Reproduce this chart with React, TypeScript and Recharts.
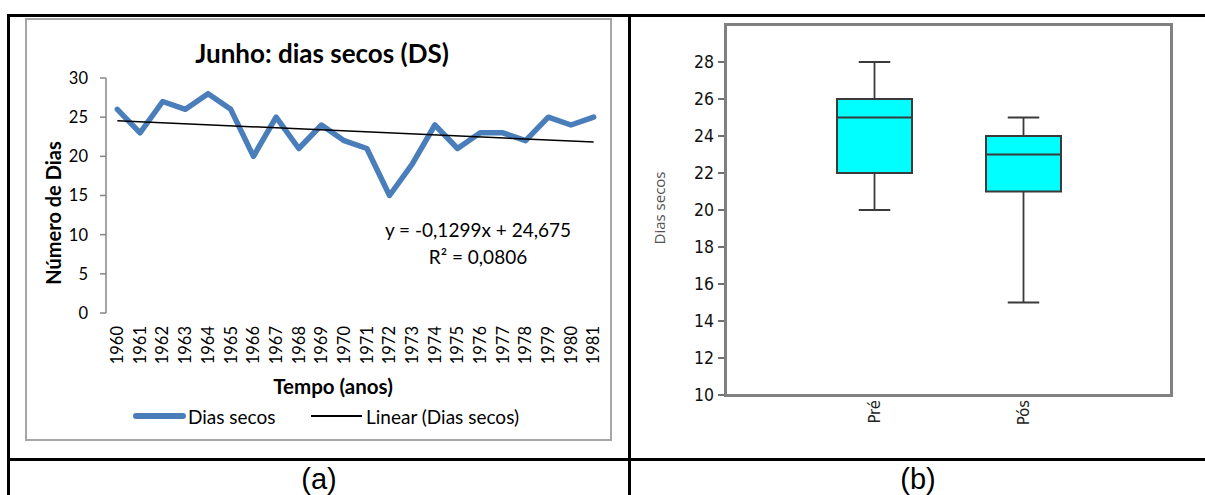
import React from 'react'
import {
  LineChart, Line, XAxis, YAxis, ReferenceLine,
  ComposedChart, Bar,
} from 'recharts'

// (a) Junho: dias secos, 1960-1981
const years = [1960, 1961, 1962, 1963, 1964, 1965, 1966, 1967, 1968, 1969, 1970,
  1971, 1972, 1973, 1974, 1975, 1976, 1977, 1978, 1979, 1980, 1981]
const drySpells = [26, 23, 27, 26, 28, 26, 20, 25, 21, 24, 22, 21, 15, 19, 24, 21, 23, 23, 22, 25, 24, 25]
const trendStart = 24.55
const trendEnd = 21.82
const leftTicks = [0, 5, 10, 15, 20, 25, 30]

// (b) box plot Pré / Pós
const periods = ['Pré', 'Pós']
const mins = [20, 15]
const q1s = [22, 21]
const medians = [25, 23]
const q3s = [26, 24]
const maxs = [28, 25]
const rightTicks = [10, 12, 14, 16, 18, 20, 22, 24, 26, 28]

const lineData = years.map((year, i) => ({ year, dias: drySpells[i] }))
const boundaries = [...years.map(y => y - 0.5), years[years.length - 1] + 0.5]

const boxData = periods.map((period, i) => ({
  period,
  min: mins[i],
  q1: q1s[i],
  median: medians[i],
  q3: q3s[i],
  max: maxs[i],
  box: [q1s[i], q3s[i]],
}))

const LATO = 'Lato, Calibri, sans-serif'
const COND = "'DejaVu Sans Condensed', 'DejaVu Sans', sans-serif"
const BLUE = '#4a7ebb'

const YearTick = ({ x, y, payload }: any) => (
  <text
    transform={`translate(${x},${y}) rotate(-90)`}
    textAnchor="end"
    dy="0.35em"
    fontFamily={LATO}
    fontSize={16.5}
    fill="#000"
  >
    {payload.value}
  </text>
)

const PeriodTick = ({ x, y, payload }: any) => (
  <text
    transform={`translate(${x},${y}) rotate(-90)`}
    textAnchor="end"
    dy="0.35em"
    fontFamily={COND}
    fontStretch="condensed"
    fontSize={16.5}
    fill="#222"
  >
    {payload.value}
  </text>
)

const BoxShape = (props: any) => {
  const { x, y, width, height, payload } = props
  const unit = height / (payload.q3 - payload.q1)
  const cx = x + width / 2
  const yMax = y - (payload.max - payload.q3) * unit
  const yMin = y + height + (payload.q1 - payload.min) * unit
  const yMed = y + (payload.q3 - payload.median) * unit
  const cap = width * 0.21
  const ink = '#3a3a3a'
  return (
    <g>
      <line x1={cx} y1={yMax} x2={cx} y2={y} stroke={ink} strokeWidth={1.8} />
      <line x1={cx - cap} y1={yMax} x2={cx + cap} y2={yMax} stroke={ink} strokeWidth={1.8} />
      <line x1={cx} y1={y + height} x2={cx} y2={yMin} stroke={ink} strokeWidth={1.8} />
      <line x1={cx - cap} y1={yMin} x2={cx + cap} y2={yMin} stroke={ink} strokeWidth={1.8} />
      <rect x={x} y={y} width={width} height={height} fill="#00ffff" stroke={ink} strokeWidth={2} />
      <line x1={x} y1={yMed} x2={x + width} y2={yMed} stroke={ink} strokeWidth={2} />
    </g>
  )
}

const abs = (style: React.CSSProperties): React.CSSProperties => ({ position: 'absolute', ...style })

export default function App() {
  return (
    <div style={abs({ left: 0, top: 0, width: 1205, height: 495, overflow: 'hidden', background: '#fff' })}>
      {/* table lines */}
      <div style={abs({ left: 7, top: 14, width: 1250, height: 3, background: '#000' })} />
      <div style={abs({ left: 7, top: 14, width: 3, height: 500, background: '#000' })} />
      <div style={abs({ left: 628, top: 14, width: 3, height: 500, background: '#000' })} />
      <div style={abs({ left: 7, top: 458, width: 1250, height: 3, background: '#000' })} />

      {/* (a) */}
      <div style={abs({ left: 25, top: 18, width: 587, height: 423, border: '2px solid #a6a6a6', boxSizing: 'border-box' })} />
      <div style={abs({ left: 27, top: 20 })}>
        <LineChart
          width={583}
          height={419}
          data={lineData}
          margin={{ top: 58, right: 5, bottom: 76, left: 39 }}
        >
          <XAxis
            xAxisId="marks"
            type="number"
            dataKey="year"
            domain={[boundaries[0], boundaries[boundaries.length - 1]]}
            ticks={boundaries}
            interval={0}
            tick={false}
            tickSize={6}
            height={0}
            stroke="#868686"
            axisLine={{ stroke: '#868686', strokeWidth: 1.5 }}
            tickLine={{ stroke: '#868686', strokeWidth: 1.5 }}
          />
          <XAxis
            xAxisId="yr"
            type="number"
            dataKey="year"
            domain={[boundaries[0], boundaries[boundaries.length - 1]]}
            ticks={years}
            interval={0}
            tickLine={false}
            axisLine={false}
            tickSize={6}
            tickMargin={7}
            height={50}
            tick={<YearTick />}
          />
          <YAxis
            domain={[0, 30]}
            ticks={leftTicks}
            interval={0}
            width={40}
            tickSize={6}
            tickMargin={12}
            axisLine={{ stroke: '#868686', strokeWidth: 1.5 }}
            tickLine={{ stroke: '#868686', strokeWidth: 1.5 }}
            tick={{ fontFamily: LATO, fontSize: 16.5, fill: '#000' }}
          />
          <Line
            xAxisId="yr"
            dataKey="dias"
            stroke={BLUE}
            strokeWidth={5.5}
            strokeLinejoin="round"
            strokeLinecap="round"
            dot={false}
            isAnimationActive={false}
          />
          <ReferenceLine
            xAxisId="yr"
            segment={[{ x: years[0], y: trendStart }, { x: years[years.length - 1], y: trendEnd }]}
            stroke="#000"
            strokeWidth={1.5}
          />
        </LineChart>
      </div>
      <div style={abs({ left: 322, top: 53, transform: 'translate(-50%,-50%)', whiteSpace: 'nowrap', fontFamily: LATO, fontWeight: 700, fontSize: 26 })}>
        Junho: dias secos (DS)
      </div>
      <div style={abs({ left: 53, top: 213, transform: 'translate(-50%,-50%) rotate(-90deg)', whiteSpace: 'nowrap', fontFamily: LATO, fontWeight: 700, fontSize: 20 })}>
        Número de Dias
      </div>
      <div style={abs({ left: 333, top: 386, transform: 'translate(-50%,-50%)', whiteSpace: 'nowrap', fontFamily: LATO, fontWeight: 700, fontSize: 20.5 })}>
        Tempo (anos)
      </div>
      <div style={abs({ left: 478, top: 243, transform: 'translate(-50%,-50%)', whiteSpace: 'nowrap', fontFamily: LATO, fontSize: 19, lineHeight: '27px', textAlign: 'center' })}>
        y = -0,1299x + 24,675<br />R² = 0,0806
      </div>
      {/* legend */}
      <div style={abs({ left: 133, top: 413, width: 53, height: 6, borderRadius: 3, background: BLUE })} />
      <div style={abs({ left: 188, top: 416, transform: 'translateY(-50%)', whiteSpace: 'nowrap', fontFamily: LATO, fontSize: 19 })}>
        Dias secos
      </div>
      <div style={abs({ left: 311, top: 415, width: 51, height: 1.5, background: '#000' })} />
      <div style={abs({ left: 366, top: 416, transform: 'translateY(-50%)', whiteSpace: 'nowrap', fontFamily: LATO, fontSize: 19 })}>
        Linear (Dias secos)
      </div>

      {/* (b) */}
      <div style={abs({ left: 631, top: 17 })}>
        <ComposedChart
          width={574}
          height={441}
          data={boxData}
          margin={{ top: 8, right: 33, bottom: 23, left: 55 }}
        >
          <XAxis
            dataKey="period"
            padding={{ left: 74, right: 74 }}
            tickLine={false}
            axisLine={false}
            tickSize={0}
            tickMargin={5}
            height={40}
            interval={0}
            tick={<PeriodTick />}
          />
          <YAxis
            domain={[10, 30]}
            ticks={rightTicks}
            interval={0}
            width={40}
            tickSize={8}
            tickMargin={4}
            axisLine={false}
            tickLine={{ stroke: '#404040', strokeWidth: 1.5 }}
            tick={{ fontFamily: COND, fontSize: 17.5, fill: '#111', fontStretch: 'condensed' } as any}
            allowDataOverflow
          />
          <Bar dataKey="box" barSize={75} shape={<BoxShape />} isAnimationActive={false} />
        </ComposedChart>
      </div>
      <div style={abs({ left: 724, top: 23, width: 449, height: 374, border: '3px solid #808080', boxSizing: 'border-box', pointerEvents: 'none' })} />
      <div style={abs({ left: 659, top: 208, transform: 'translate(-50%,-50%) rotate(-90deg)', whiteSpace: 'nowrap', fontFamily: "'Open Sans', sans-serif", fontSize: 15, color: '#505050' })}>
        Dias secos
      </div>

      {/* captions */}
      <div style={abs({ left: 319, top: 465, transform: 'translateX(-50%)', fontFamily: "'Liberation Sans', Arial, sans-serif", fontSize: 29, lineHeight: '29px' })}>
        (a)
      </div>
      <div style={abs({ left: 918, top: 465, transform: 'translateX(-50%)', fontFamily: "'Liberation Sans', Arial, sans-serif", fontSize: 29, lineHeight: '29px' })}>
        (b)
      </div>
    </div>
  )
}
